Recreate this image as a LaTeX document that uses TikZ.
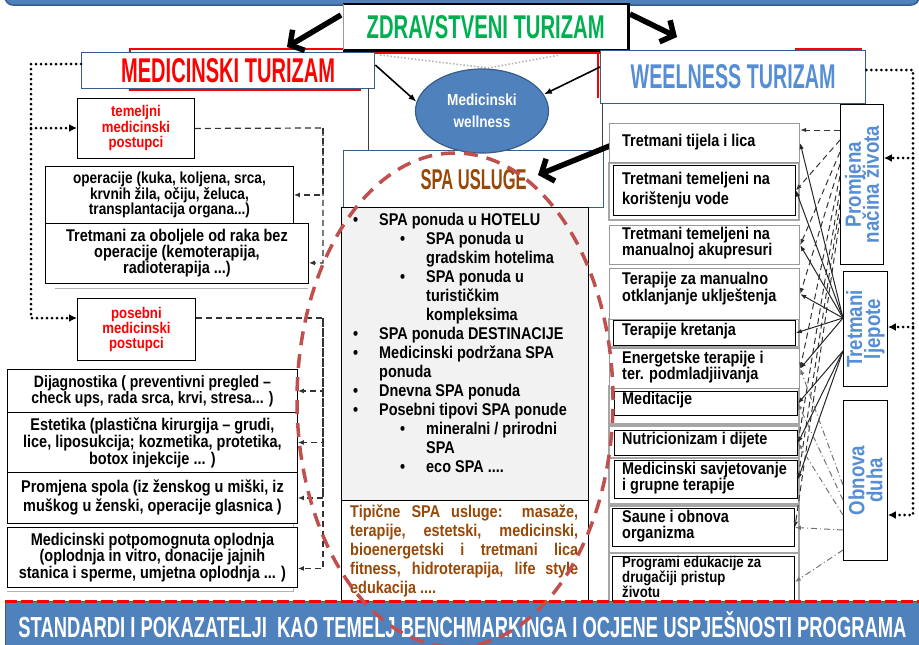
\documentclass[tikz,border=0pt]{standalone}
\usepackage{graphicx}
\usepackage{fontspec}
\setmainfont{Liberation Sans}[FakeStretch=0.85]
\usetikzlibrary{arrows.meta,shapes.geometric,calc}
\definecolor{barblue}{HTML}{4F81BD}
\definecolor{bardark}{HTML}{385D8A}
\definecolor{zgreen}{HTML}{00B050}
\definecolor{lblue}{HTML}{558ED5}
\definecolor{sbrown}{HTML}{984807}
\definecolor{dred}{HTML}{C0504D}
\definecolor{lgray}{HTML}{F2F2F2}
\newcommand\myfs[1]{\fontsize{17}{#1}\selectfont\lineskiplimit=-20pt\lineskip=0pt}
\newcommand\myfsr[2]{\fontsize{#1}{#2}\selectfont\lineskiplimit=-20pt\lineskip=0pt}
\newcommand\bA{\hspace*{3pt}\makebox[26pt][l]{\textbullet}}
\newcommand\bB{\hspace*{50pt}\makebox[26pt][l]{\textbullet}}
\newcommand\iA{\hspace*{29pt}}
\newcommand\iB{\hspace*{76pt}}
\begin{document}
\begin{tikzpicture}[x=1pt,y=-1pt,font=\bfseries,
  lbox/.style={draw=black,line width=0.9pt,fill=white,anchor=north west,inner sep=0pt,align=center},
  hbox/.style={draw=bardark,line width=1.3pt,fill=white,anchor=north west,inner sep=0pt},
  rblack/.style={draw=black,line width=0.9pt,fill=white,anchor=north west,inner sep=0pt},
  rgray/.style={draw=black!40,line width=1.2pt,fill=white,anchor=north west,inner sep=0pt},
  gshadow/.style={draw=black!35,line width=1.2pt},
  rtext/.style={anchor=west,align=left,inner sep=0pt},
  vbox/.style={draw=black,line width=0.9pt,fill=white,anchor=north west,inner sep=0pt},
  vtext/.style={rotate=90,align=center,inner sep=0pt,text=lblue,font=\bfseries\myfsr{22}{18}},
  dotc/.style={line width=3pt,dash pattern=on 0pt off 5pt,line cap=round,-{Latex[length=8pt,width=8pt]}},
  dsh/.style={line width=1.2pt,draw=black!80,dash pattern=on 6pt off 4pt,-{Latex[length=6pt,width=5pt]}},
  fanS/.style={line width=1pt,draw=black!85,-{Latex[length=6pt,width=4.5pt]}},
  fanD/.style={line width=1pt,draw=black!80,dash pattern=on 6pt off 4pt,-{Latex[length=6pt,width=4.5pt]}},
  fanO/.style={line width=1pt,draw=black!55,dash pattern=on 6pt off 3pt on 1pt off 3pt,-{Latex[length=6pt,width=4.5pt]}},
  bigarrow/.style={line width=5.5pt,-{Straight Barb[length=10pt,width=24pt,line width=5.5pt]}},
  thinarrow/.style={line width=1.6pt,-{Latex[length=8pt,width=6pt]}}]
\useasboundingbox (0,0) rectangle (919,645);
\fill[white] (0,0) rectangle (919,645);
% top bar
\draw[fill=barblue,draw=bardark,line width=1.5pt,rounded corners=8pt] (5,-40) rectangle (919,5);
% red frames behind headings
\draw[red,line width=2pt] (130,49) rectangle (360,90);
\draw[red,line width=1.5pt] (360,53) -- (600,53);
\draw[red,line width=1.5pt] (598,53) -- (598,98);
\draw[red,line width=2pt] (795,49) -- (862,49);
% heading ZDRAVSTVENI
\node[fill=white,minimum width=285pt,minimum height=46pt,anchor=north west,inner sep=0pt] (zd) at (343,4)
  {\textcolor{zgreen}{\resizebox{238pt}{23pt}{ZDRAVSTVENI TURIZAM}}};
\draw[black,line width=2.5pt] (zd.north west) -- (zd.north east) -- (zd.south east) -- (zd.south west);
\draw[black!40,line width=0.6pt] (zd.south west) -- (zd.north west);
% heading MEDICINSKI / WEELNESS
\node[hbox,minimum width=293pt,minimum height=36pt] (mt) at (81,52)
  {\textcolor{red}{\resizebox{214pt}{24pt}{MEDICINSKI TURIZAM}}};
\node[hbox,minimum width=265pt,minimum height=53pt] (wt) at (600,50)
  {\textcolor{lblue}{\resizebox{205pt}{24pt}{WEELNESS TURIZAM}}};
% thin vertical frame lines
\draw[black!75,line width=0.8pt] (368,88) -- (368,150);
\draw[black!75,line width=0.8pt] (602,103) -- (602,150);
% gray dotted zigzag
\draw[black!30,line width=1.5pt,dotted] (380,55) -- (488,68) -- (560,55);
% SPA boxes
\node[hbox,minimum width=260pt,minimum height=57pt] (sp) at (343,150)
  {\textcolor{sbrown}{\resizebox{106pt}{20pt}{SPA USLUGE}}};
\node[draw=black,line width=0.8pt,fill=lgray,anchor=north west,minimum width=247pt,minimum height=293pt,inner sep=0pt] (sg) at (341,207) {};
\node[draw=black,line width=0.8pt,fill=white,anchor=north west,minimum width=247pt,minimum height=105pt,inner sep=0pt] (sb) at (341,500) {};
\node[anchor=north west,align=left,inner sep=0pt,font=\bfseries\myfs{19}] (spalist) at (350,213) {%
\bA SPA ponuda u HOTELU\\
\bB SPA ponuda u\\
\iB gradskim hotelima\\
\bB SPA ponuda u\\
\iB turističkim\\
\iB kompleksima\\
\bA SPA ponuda DESTINACIJE\\
\bA Medicinski podržana SPA\\
\iA ponuda\\
\bA Dnevna SPA ponuda\\
\bA Posebni tipovi SPA ponude\\
\bB mineralni / prirodni\\
\iB SPA\\
\bB eco SPA ....};
\node[anchor=north west,text width=228pt,align=justify,inner sep=0pt,text=sbrown,font=\bfseries\myfs{19}] (spatext) at (350,505) {%
Tipične SPA usluge: masaže,\linebreak terapije, estetski, medicinski,\linebreak bioenergetski i tretmani lica\linebreak fitness, hidroterapija, life style\linebreak edukacija ....};
% ellipse
\node[ellipse,minimum width=133pt,minimum height=84pt,fill=barblue,draw=bardark,line width=1.2pt,align=center,text=white,font=\bfseries\myfsr{16}{22}] (mw) at (482,111) {Medicinski\\wellness};
\draw[thinarrow] (mt.east |- 0,65) -- (mw.172);
\draw[thinarrow] (wt.west |- 0,67) -- (mw.15);
% big black arrows
\coordinate (a1s) at (341,15); \coordinate (a1e) at (287,47);
\coordinate (a2s) at (630,14); \coordinate (a2e) at (677,37);
\coordinate (a3s) at (617,143); \coordinate (a3e) at (538,175);
\draw[bigarrow] (a1s) -- (a1e);
\draw[bigarrow] (a2s) -- (a2e);
\draw[bigarrow] (a3s) -- (a3e);
% left boxes
\node[lbox,minimum width=117pt,minimum height=60pt,text=red,font=\bfseries\myfsr{15.5}{15.5}] (tem) at (77,98) {temeljni\\medicinski\\postupci};
\draw[black!30,line width=1pt] (55,288) -- (308,288);
\node[lbox,minimum width=248pt,minimum height=57pt,font=\bfseries\myfsr{16}{15.5}] (op) at (45,166) {operacije (kuka, koljena, srca,\\krvnih žila, očiju, želuca,\\transplantacija organa...)};
\node[lbox,minimum width=263pt,minimum height=60pt,font=\bfseries\myfs{16}] (tre) at (45,223) {Tretmani za oboljele od raka bez\\operacije (kemoterapija,\\radioterapija ...)};
\node[lbox,minimum width=118pt,minimum height=62pt,text=red,font=\bfseries\myfsr{15.5}{15}] (pos) at (77,298) {posebni\\medicinski\\postupci};
\draw[black!30,line width=1pt] (7,591) -- (293,591) -- (293,369);
\node[lbox,minimum width=290pt,minimum height=43pt,font=\bfseries\myfsr{16.5}{16}] (dij) at (7,369) {Dijagnostika ( preventivni pregled –\\check ups, rada srca, krvi, stresa... )};
\node[lbox,minimum width=290pt,minimum height=60pt,font=\bfseries\myfs{17}] (est) at (7,412) {Estetika (plastična kirurgija – grudi,\\lice, liposukcija; kozmetika, protetika,\\botox injekcije ... )};
\node[lbox,minimum width=290pt,minimum height=51pt,font=\bfseries\myfs{19}] (prs) at (7,472) {Promjena spola (iz ženskog u miški, iz\\muškog u ženski, operacije glasnica )};
\node[lbox,minimum width=290pt,minimum height=60pt,font=\bfseries\myfs{16.5}] (mpo) at (7,527) {Medicinski potpomognuta oplodnja\\(oplodnja in vitro, donacije jajnih\\stanica i sperme, umjetna oplodnja ... )};
% left connectors
\coordinate (lc1) at (31,64); \coordinate (lc2) at (31,318); \coordinate (lc3) at (31,128);
\draw[dotc] (mt.west |- lc1) -- (lc1) -- (lc2) -- (lc2 -| pos.west);
\draw[dotc] (lc3) -- (lc3 -| tem.west);
\coordinate (ld1) at (323,128); \coordinate (ld2) at (323,318);
\draw[dsh] (tem.east) -- (ld1) |- ($(tre.south east)+(0,-21)$);
\draw[dsh] (ld1) |- (op.east);
\draw[dsh] (ld2 -| pos.east) -- (ld2) |- ($(mpo.east)+(0,11)$);
\draw[dsh] (ld2) |- (dij.east);
\draw[dsh] (ld2) |- (est.east);
\draw[dsh] (ld2) |- (prs.east);
% right gray shadows
\draw[gshadow] (609,163) rectangle (799,220);
\draw[gshadow] (609,319) rectangle (799,347);
\draw[gshadow] (609,386) rectangle (799,424);
\draw[gshadow] (609,426) rectangle (799,458);
\draw[gshadow] (609,458) rectangle (799,506);
\draw[gshadow] (609,504) rectangle (799,553);
\draw[gshadow] (609,553) rectangle (799,604);
% right boxes
\node[rgray,minimum width=190pt,minimum height=39pt] (r1) at (609,123) {};
\node[rblack,minimum width=182pt,minimum height=50pt] (r2) at (613,165) {};
\node[rgray,minimum width=190pt,minimum height=39pt] (r3) at (609,225) {};
\node[rgray,minimum width=190pt,minimum height=51pt] (r4) at (609,268) {};
\node[rblack,minimum width=182pt,minimum height=25pt] (r5) at (613,320) {};
\node[rgray,minimum width=190pt,minimum height=40pt] (r6) at (609,348) {};
\node[rblack,minimum width=183pt,minimum height=24pt] (r7) at (614,391) {};
\node[rblack,minimum width=183pt,minimum height=25pt] (r8) at (614,430) {};
\node[rblack,minimum width=183pt,minimum height=38pt] (r9) at (614,460) {};
\node[rblack,minimum width=182pt,minimum height=38pt] (r10) at (612,508) {};
\node[rblack,minimum width=182pt,minimum height=51pt] (r11) at (612,556) {};
\node[rtext,font=\bfseries\myfs{17}] (t1) at (622,142) {Tretmani tijela i lica};
\node[rtext,font=\bfseries\myfs{20}] (t2) at (622,190) {Tretmani temeljeni na\\korištenju vode};
\node[rtext,font=\bfseries\myfs{16}] (t3) at (622,243) {Tretmani temeljeni na\\manualnoj akupresuri};
\node[rtext,font=\bfseries\myfs{17}] (t4) at (622,289) {Terapije za manualno\\otklanjanje uklještenja};
\node[rtext,font=\bfseries\myfs{17}] (t5) at (622,331) {Terapije kretanja};
\node[rtext,font=\bfseries\myfs{16}] (t6) at (622,367) {Energetske terapije i\\ter. podmladjiivanja};
\node[rtext,font=\bfseries\myfs{17}] (t7) at (622,400) {Meditacije};
\node[rtext,font=\bfseries\myfs{17}] (t8) at (622,440) {Nutricionizam i dijete};
\node[rtext,font=\bfseries\myfs{16}] (t9) at (622,478) {Medicinski savjetovanje\\i grupne terapije};
\node[rtext,font=\bfseries\myfs{15.5}] (t10) at (622,526) {Saune i obnova\\organizma};
\node[rtext,font=\bfseries\myfsr{15.5}{15}] (t11) at (622,577) {Programi edukacije za\\drugačiji pristup\\životu};
% vertical label boxes
\node[vbox,minimum width=43pt,minimum height=160pt] (pr) at (840,104) {};
\node[vbox,minimum width=44pt,minimum height=115pt] (tl) at (843,271) {};
\node[vbox,minimum width=44pt,minimum height=160pt] (ob) at (843,400) {};
\node[vtext] (prt) at (pr.center) {Promjena\\načina života};
\node[vtext] (tlt) at (tl.center) {Tretmani\\ljepote};
\node[vtext] (obt) at (ob.center) {Obnova\\duha};
% fan connectors
\draw[fanD] ($(pr.north west)+(0,26)$) -- ($(r1.north east)+(0,7)$);
\draw[fanD] ($(pr.north west)+(0,36)$) -- (r2.east);
\draw[fanD] ($(pr.north west)+(0,48)$) -- (r3.east);
\draw[fanD] ($(pr.north west)+(0,60)$) -- (r4.east);
\draw[fanD] ($(pr.north west)+(0,72)$) -- (r6.east);
\draw[fanD] ($(pr.north west)+(0,86)$) -- (r8.east);
\draw[fanD] ($(pr.north west)+(0,100)$) -- (r9.east);
\draw[fanD] ($(pr.north west)+(0,114)$) -- (r10.east);
\coordinate (fs1) at ($(tl.north west)+(0,47)$);
\coordinate (fs2) at ($(tl.north west)+(0,80)$);
\draw[fanS] (fs1) -- (r1.east);
\draw[fanS] (fs1) -- (r2.east);
\draw[fanS] (fs1) -- (r3.east);
\draw[fanS] (fs1) -- (r4.east);
\draw[fanS] (fs1) -- (r5.east);
\draw[fanS] (fs1) -- (r6.east);
\draw[fanS] (fs2) -- (r7.east);
\draw[fanS] (fs2) -- (r8.east);
\draw[fanS] (fs2) -- (r9.east);
\draw[fanO] ($(ob.north west)+(0,85)$) -- (r6.east);
\draw[fanO] ($(ob.north west)+(0,100)$) -- (r7.east);
\draw[fanO] ($(ob.north west)+(0,115)$) -- (r8.east);
\draw[fanO] ($(ob.north west)+(0,130)$) -- (r10.east);
\draw[fanO] ($(ob.north west)+(0,150)$) -- (r11.east);
% right dotted connectors
\coordinate (rc1) at (913,70); \coordinate (rc2) at (913,515);
\coordinate (rc3) at (913,158); \coordinate (rc4) at (913,327);
\draw[dotc] (wt.east |- rc1) -- (rc1) -- (rc2) -- (rc2 -| ob.east);
\draw[dotc] (rc3) -- (rc3 -| pr.east);
\draw[dotc] (rc4) -- (rc4 -| tl.east);
% bottom bar
\node[fill=barblue,draw=bardark,line width=1pt,anchor=north west,minimum width=914pt,minimum height=46pt,inner sep=0pt] (bb) at (5,601)
  {\textcolor{white}{\resizebox{888pt}{26pt}{STANDARDI I POKAZATELJI\ \ KAO TEMELJ BENCHMARKINGA I OCJENE USPJEŠNOSTI PROGRAMA}}};
\draw[red,line width=3pt,dash pattern=on 12pt off 4pt] (bb.north west) -- (bb.north east);
% red dashed ellipse
\draw[dred,line width=3.5pt,dash pattern=on 14pt off 9pt] (455,400) ellipse [x radius=158pt,y radius=247pt];
\end{tikzpicture}
\end{document}
